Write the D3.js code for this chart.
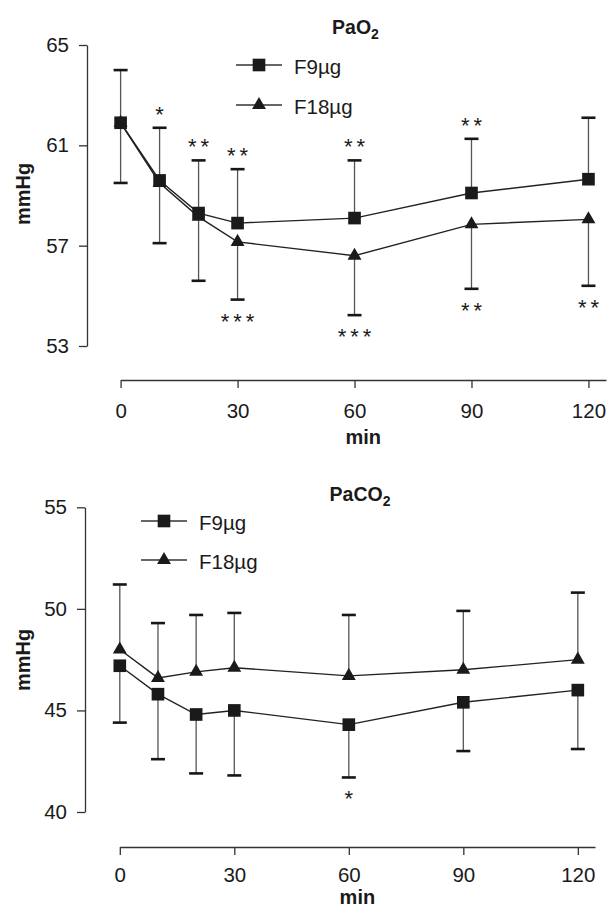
<!DOCTYPE html>
<html>
<head>
<meta charset="utf-8">
<script src="https://cdn.jsdelivr.net/npm/d3@7"></script>
<style>
  html, body { margin: 0; padding: 0; background: #fff; }
  svg { display: block; }
  text { font-family: "Liberation Sans", Arial, Helvetica, sans-serif; fill: #1a1a1a; }
</style>
</head>
<body>
<div id="chart"></div>
<script>
// ---------------- data ----------------
const times = [0, 10, 20, 30, 60, 90, 120];
const xTickValues = [0, 30, 60, 90, 120];
const seriesNames = ["F9µg", "F18µg"];

// PaO2 (mmHg)
const pao2Ticks = [53, 57, 61, 65];
const pao2F9 = [61.9, 59.6, 58.3, 57.9, 58.1, 59.1, 59.65];
const pao2F9SD = [2.1, 2.1, 2.1, 2.15, 2.3, 2.16, 2.45];
const pao2F18 = [61.9, 59.5, 58.15, 57.15, 56.6, 57.85, 58.05];
const pao2F18SD = [2.4, 2.4, 2.55, 2.3, 2.37, 2.57, 2.65];
const pao2SigAbove = ["", "*", "**", "**", "**", "**", ""];
const pao2SigBelow = ["", "", "", "***", "***", "**", "**"];

// PaCO2 (mmHg)
const paco2Ticks = [40, 45, 50, 55];
const paco2F9 = [47.2, 45.8, 44.8, 45.0, 44.3, 45.4, 46.0];
const paco2F9SD = [2.8, 3.2, 2.9, 3.2, 2.6, 2.4, 2.9];
const paco2F18 = [48.0, 46.6, 46.9, 47.1, 46.7, 47.0, 47.5];
const paco2F18SD = [3.2, 2.7, 2.8, 2.7, 3.0, 2.9, 3.3];
const paco2SigAbove = ["", "", "", "", "", "", ""];
const paco2SigBelow = ["", "", "", "", "*", "", ""];

// ---------------- drawing ----------------
const W = 609, H = 909;
const svg = d3.select("#chart").append("svg").attr("width", W).attr("height", H);

const FONT = '"Liberation Sans", Arial, Helvetica, sans-serif';
const AXIS_COLOR = "#333";

function drawPanel(cfg) {
  const g = svg.append("g");
  const x = d3.scaleLinear().domain([0, cfg.xEnd]).range(cfg.xRange);
  const y = d3.scaleLinear().domain(cfg.yDomain).range(cfg.yRange);

  // Y axis
  const ya = g.append("g")
    .attr("transform", `translate(${cfg.yAxisX},0)`)
    .call(d3.axisLeft(y).tickValues(cfg.yTicks).tickSize(8).tickSizeOuter(0).tickPadding(10).tickFormat(d3.format("d")));
  // X axis
  const xa = g.append("g")
    .attr("transform", `translate(0,${cfg.xAxisY})`)
    .call(d3.axisBottom(x).tickValues(xTickValues).tickSize(8).tickSizeOuter(0).tickPadding(cfg.xPad).tickFormat(d3.format("d")));
  [ya, xa].forEach(a => {
    a.select(".domain").attr("stroke", AXIS_COLOR).attr("stroke-width", 1.3);
    a.selectAll(".tick line").attr("stroke", AXIS_COLOR).attr("stroke-width", 1.3);
    a.selectAll(".tick text").attr("font-size", 20.5).attr("font-family", FONT).attr("fill", "#1a1a1a");
  });

  // axis labels
  g.append("text")
    .attr("transform", `translate(${cfg.yLabelX},${cfg.yLabelY}) rotate(-90)`)
    .attr("text-anchor", "middle").attr("font-size", 20).attr("font-weight", "bold")
    .text("mmHg");
  g.append("text")
    .attr("x", (x(0) + x(cfg.xEnd)) / 2).attr("y", cfg.minY)
    .attr("text-anchor", "middle").attr("font-size", 20).attr("font-weight", "bold")
    .text("min");

  // title
  const t = g.append("text")
    .attr("x", cfg.titleX).attr("y", cfg.titleY)
    .attr("text-anchor", "middle").attr("font-size", 19.5).attr("font-weight", "bold");
  t.append("tspan").text(cfg.titleMain);
  t.append("tspan").attr("font-size", 14).attr("dy", 5).text("2");

  const series = cfg.series;

  // error bars
  series.forEach(s => {
    const eb = g.append("g");
    times.forEach((tm, i) => {
      const end = s.mean[i] + s.dir * s.sd[i];
      eb.append("line")
        .attr("x1", x(tm)).attr("x2", x(tm))
        .attr("y1", y(s.mean[i])).attr("y2", y(end))
        .attr("stroke", "#555").attr("stroke-width", 1.3);
      eb.append("line")
        .attr("x1", x(tm) - 7).attr("x2", x(tm) + 7)
        .attr("y1", y(end)).attr("y2", y(end))
        .attr("stroke", "#161616").attr("stroke-width", 2.6);
    });
  });

  // lines
  const line = d3.line().x((d, i) => x(times[i])).y(d => y(d));
  series.forEach(s => {
    g.append("path").datum(s.mean)
      .attr("d", line).attr("fill", "none")
      .attr("stroke", "#222").attr("stroke-width", 1.4);
  });

  // markers
  const sq = d3.symbol(d3.symbolSquare).size(160);
  const tri = d3.symbol(d3.symbolTriangle).size(84);
  [series[1], series[0]].forEach(s => {
    g.append("g").selectAll("path").data(s.mean).join("path")
      .attr("transform", (d, i) => `translate(${x(times[i])},${y(d)})`)
      .attr("d", s.shape === "square" ? sq : tri)
      .attr("fill", "#1a1a1a");
  });

  // significance marks
  function stars(labels, s, above) {
    labels.forEach((lab, i) => {
      if (!lab) return;
      const end = y(s.mean[i] + s.dir * s.sd[i]);
      const cy = above ? end - 18 : end + 17;
      g.append("text")
        .attr("x", x(times[i])).attr("y", cy + 12)
        .attr("dx", 2)
        .attr("text-anchor", "middle").attr("font-size", 22)
        .attr("letter-spacing", "4px")
        .text(lab);
    });
  }
  const upS = series.find(s => s.dir > 0), dnS = series.find(s => s.dir < 0);
  stars(cfg.sigAbove, upS, true);
  stars(cfg.sigBelow, dnS, false);

  // legend
  series.forEach((s, k) => {
    const ly = cfg.legendY[k];
    const lg = g.append("g");
    lg.append("line")
      .attr("x1", cfg.legendX).attr("x2", cfg.legendX + 46)
      .attr("y1", ly).attr("y2", ly)
      .attr("stroke", "#333").attr("stroke-width", 1.4);
    lg.append("path")
      .attr("transform", `translate(${cfg.legendX + 23},${ly})`)
      .attr("d", s.shape === "square" ? sq : tri)
      .attr("fill", "#1a1a1a");
    lg.append("text")
      .attr("x", cfg.legendX + 58).attr("y", ly + 9)
      .attr("font-size", 20.5)
      .text(s.name);
  });
}

drawPanel({
  xEnd: 124.5, xRange: [120.6, 606],
  yDomain: [53, 65], yRange: [346, 45], yTicks: pao2Ticks,
  yAxisX: 87, xAxisY: 380, xPad: 15,
  yLabelX: 29.5, yLabelY: 194, minY: 444,
  titleMain: "PaO", titleX: 355.5, titleY: 33.5,
  legendX: 236, legendY: [65, 105],
  sigAbove: pao2SigAbove, sigBelow: pao2SigBelow,
  series: [
    { name: seriesNames[0], mean: pao2F9, sd: pao2F9SD, dir: 1, shape: "square" },
    { name: seriesNames[1], mean: pao2F18, sd: pao2F18SD, dir: -1, shape: "triangle" }
  ]
});

drawPanel({
  xEnd: 124.5, xRange: [119.8, 595],
  yDomain: [40, 55], yRange: [812, 507.3], yTicks: paco2Ticks,
  yAxisX: 85, xAxisY: 847, xPad: 12,
  yLabelX: 29.5, yLabelY: 660, minY: 904,
  titleMain: "PaCO", titleX: 360, titleY: 500.7,
  legendX: 141, legendY: [521, 560],
  sigAbove: paco2SigAbove, sigBelow: paco2SigBelow,
  series: [
    { name: seriesNames[0], mean: paco2F9, sd: paco2F9SD, dir: -1, shape: "square" },
    { name: seriesNames[1], mean: paco2F18, sd: paco2F18SD, dir: 1, shape: "triangle" }
  ]
});
</script>
</body>
</html>
